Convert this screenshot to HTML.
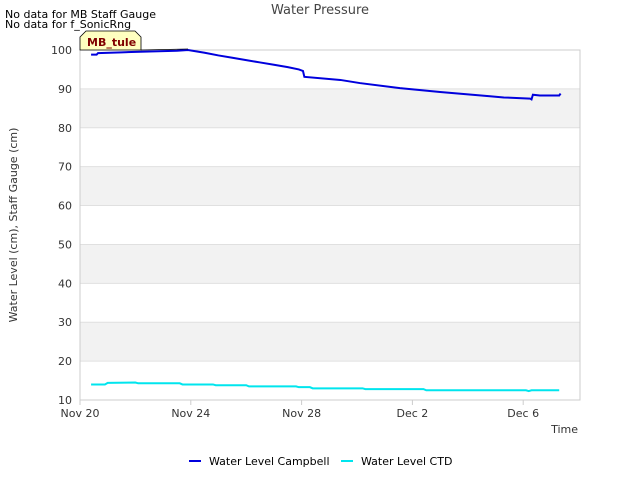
<!DOCTYPE html>
<html><head><meta charset="utf-8"><style>
body{margin:0;background:#fff;font-family:"Liberation Sans","DejaVu Sans",sans-serif}
svg text{font-family:"DejaVu Sans","Liberation Sans",sans-serif}
</style></head><body>
<svg id="c" width="640" height="480" xmlns="http://www.w3.org/2000/svg">
<rect width="640" height="480" fill="#fff"/>
<g id="bands"></g>
<g id="grid"></g>
<rect x="80" y="50" width="500" height="350" fill="none" stroke="#ccc"/>
<g id="ticks"></g>
<g id="series"></g>
<text x="320" y="14" text-anchor="middle" font-size="13" fill="#444">Water Pressure</text>
<text x="5" y="18" font-size="11" fill="#000">No data for MB Staff Gauge</text>
<text x="5" y="28" font-size="11" fill="#000">No data for f_SonicRng</text>
<text x="578" y="433" text-anchor="end" font-size="11" fill="#333">Time</text>
<text transform="translate(17,225) rotate(-90)" text-anchor="middle" font-size="11" fill="#333">Water Level (cm), Staff Gauge (cm)</text>
<g>
<path d="M80,50 L80,37 L86,31 L135,31 L141,37 L141,50 Z" fill="#ffffc0" stroke="#000" stroke-width="0.8"/>
<line x1="141" y1="50" x2="188" y2="49" stroke="#000" stroke-width="0.8"/>
<text x="87" y="46" font-size="11" font-weight="bold" fill="#800000">MB_tule</text>
</g>
<g>
<line x1="189" y1="461" x2="201" y2="461" stroke="#0000dd" stroke-width="2"/>
<text x="209" y="465" font-size="11" fill="#000">Water Level Campbell</text>
<line x1="341" y1="461" x2="353" y2="461" stroke="#00e5ee" stroke-width="2"/>
<text x="361" y="465" font-size="11" fill="#000">Water Level CTD</text>
</g>
</svg>
<script>
const campDays=[0.4,0.6,0.65,1.5,2.5,3.5,3.9,4.5,5,5.5,6,6.5,7,7.5,7.9,8.05,8.1,9.4,10.1,11.55,13,14.8,15.3,16.25,16.3,16.35,16.6,17.3,17.35];
const campVals=[98.8,98.8,99.2,99.4,99.6,99.8,100,99.3,98.6,98,97.4,96.8,96.2,95.6,95,94.6,93.1,92.3,91.5,90.2,89.2,88.1,87.8,87.5,87.3,88.5,88.3,88.3,88.8];
const ctdDays=[0.4,0.9,1,2,2.1,3.6,3.7,4.8,4.9,6,6.1,7.8,7.9,8.3,8.4,10.2,10.3,12.4,12.5,16.1,16.2,16.3,17.3];
const ctdVals=[14,14,14.4,14.5,14.3,14.3,14,14,13.8,13.8,13.5,13.5,13.3,13.3,13,13,12.8,12.8,12.5,12.5,12.3,12.5,12.5];
const yTicks=[10,20,30,40,50,60,70,80,90,100];
const xTickDays=[0,4,8,12,16];
const xTickLabels=["Nov 20","Nov 24","Nov 28","Dec 2","Dec 6"];
const NS="http://www.w3.org/2000/svg";
const X=d=>80+d*27.7, Y=v=>400-(v-10)*350/90;
function mk(t,a,p){const e=document.createElementNS(NS,t);for(const k in a)e.setAttribute(k,a[k]);document.getElementById(p).appendChild(e);return e;}
for(let i=0;i<yTicks.length-1;i++){
 if(i%2==1){const r=mk('rect',{x:80,y:Y(yTicks[i+1]),width:500,height:Y(yTicks[i])-Y(yTicks[i+1]),fill:'#f2f2f2'},'bands');
 
 }
}
yTicks.forEach(v=>{
 const l=mk('line',{x1:80,x2:580,y1:Y(v),y2:Y(v),stroke:'#e0e0e0'},'grid');
 
 
 const t=mk('text',{x:72,y:Y(v)+4,'text-anchor':'end','font-size':11,fill:'#333'},'ticks');t.textContent=v;
 
 
});
xTickDays.forEach((d,i)=>{
 const l=mk('line',{x1:X(d),x2:X(d),y1:400,y2:405,stroke:'#ccc'},'ticks');
 
 
 const t=mk('text',{x:X(d),y:417,'text-anchor':'middle','font-size':11,fill:'#333'},'ticks');t.textContent=xTickLabels[i];
 
 
});
function line(ds,vs,col,name){
 const p=mk('polyline',{points:ds.map((d,i)=>X(d)+','+Y(vs[i])).join(' '),fill:'none',stroke:col,'stroke-width':2},'series');
 
 
}
line(campDays,campVals,'#0000dd','campbell-line');
line(ctdDays,ctdVals,'#00e5ee','ctd-line');
</script>
</body></html>
